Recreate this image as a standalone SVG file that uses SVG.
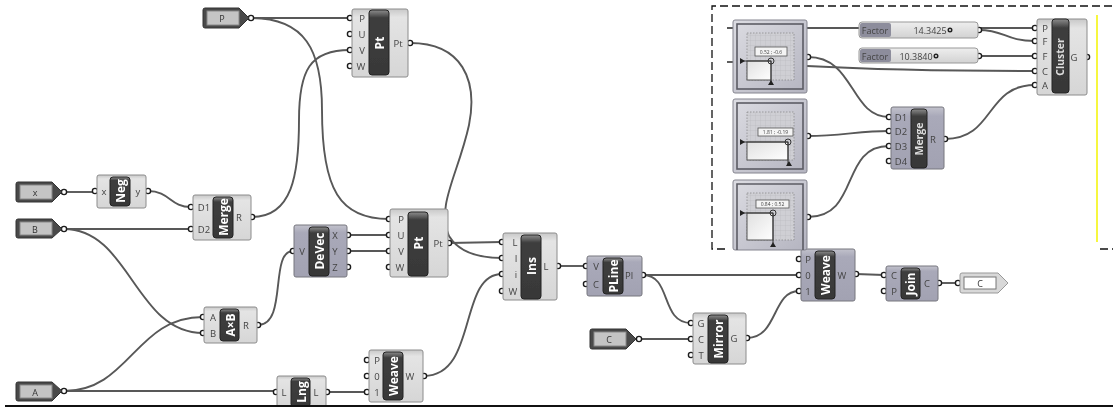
<svg xmlns="http://www.w3.org/2000/svg" width="1113" height="407" viewBox="0 0 1113 407">
<style>
text{font-family:"Open Sans","Noto Sans",sans-serif;text-anchor:middle;dominant-baseline:central}
.w{fill:none;stroke:#585858;stroke-width:1.9}
.l{fill:url(#lg);stroke:#8c8c8c;stroke-width:1}
.v{fill:url(#vg);stroke:#77777f;stroke-width:1}
.d{fill:url(#dg);stroke:#222;stroke-width:1}
.p{fill:#fff;stroke:#1c1c1c;stroke-width:1.4}
.t{font-size:9.5px;fill:#444}
.n{font-size:12px;font-weight:700;fill:#fff}
.m{font-size:10.5px;font-weight:700;fill:#ddd}
.pd{fill:#4a4a4a;stroke:#333;stroke-width:1}
.pi{fill:#c4c4c4;stroke:#888;stroke-width:1}
.pt{font-size:9px;fill:#333}
.gm{fill:url(#gg);stroke:#85858f;stroke-width:1}
.gf{fill:none;stroke:#5c5c64;stroke-width:1.6}
.gb{fill:url(#grid);stroke:#777;stroke-width:.6;stroke-dasharray:1.5 1.5}
.sq{fill:url(#sq);stroke:#555;stroke-width:1}
.c{fill:none;stroke:#333;stroke-width:1}
.tag{fill:#f4f4f4;stroke:#555;stroke-width:.8}
.tt{font-size:5px;fill:#444}
.s{fill:url(#sg);stroke:#999;stroke-width:1}
.sl{fill:#8d8d9c}
.st{font-size:9px;fill:#444}
.k{fill:#222}
</style>
<defs>
<linearGradient id="lg" x1="0" y1="0" x2="0" y2="1"><stop offset="0" stop-color="#c8c8c8"/><stop offset=".12" stop-color="#e4e4e4"/><stop offset="1" stop-color="#d6d6d6"/></linearGradient>
<linearGradient id="vg" x1="0" y1="0" x2="0" y2="1"><stop offset="0" stop-color="#c2c2cc"/><stop offset=".15" stop-color="#a9a9b9"/><stop offset="1" stop-color="#a2a2b2"/></linearGradient>
<linearGradient id="dg" x1="0" y1="0" x2="0" y2="1"><stop offset="0" stop-color="#8c8c8c"/><stop offset=".06" stop-color="#666"/><stop offset=".12" stop-color="#3e3e3e"/><stop offset="1" stop-color="#383838"/></linearGradient>
<linearGradient id="gg" x1="0" y1="0" x2="1" y2="1"><stop offset="0" stop-color="#dcdce2"/><stop offset="1" stop-color="#b4b4c0"/></linearGradient>
<linearGradient id="sq" x1="0" y1="0" x2="1" y2="1"><stop offset="0" stop-color="#e0e0e0"/><stop offset="1" stop-color="#ffffff"/></linearGradient>
<linearGradient id="sg" x1="0" y1="0" x2="0" y2="1"><stop offset="0" stop-color="#eee"/><stop offset="1" stop-color="#d2d2d2"/></linearGradient>
<pattern id="grid" width="5" height="5" patternUnits="userSpaceOnUse"><rect width="5" height="5" fill="#cfcfd4"/><path d="M5 0H0V5" fill="none" stroke="#b2b2b8" stroke-width=".5"/></pattern>
<filter id="b1" x="-2%" y="-2%" width="104%" height="104%"><feGaussianBlur stdDeviation=".4"/></filter>
<filter id="b2" x="-2%" y="-2%" width="104%" height="104%"><feGaussianBlur stdDeviation=".7"/></filter>
</defs>
<rect width="1113" height="407" fill="#fff"/>

<g id="connectors" filter="url(#b1)">
<path class="w" d="M64 192H95"/>
<path class="w" d="M148 191C170 191 170 207 191 207"/>
<path class="w" d="M64 229H191"/>
<path class="w" d="M252 217C292 217 299 175 299 120C299 70 310 50 350 50"/>
<path class="w" d="M251 18H350"/>
<path class="w" d="M251 18C305 18 322 50 322 110C322 190 340 219 389 219"/>
<path class="w" d="M410 43C462 43 478 80 469 125C458 175 436 205 449 236C460 254 482 258 502 258"/>
<path class="w" d="M64 229C130 229 135 333 203 333"/>
<path class="w" d="M64 391C130 391 135 317 203 317"/>
<path class="w" d="M64 391H276"/>
<path class="w" d="M258 325C288 325 269 251 293 251"/>
<path class="w" d="M348 235H389"/>
<path class="w" d="M348 251H389"/>
<path class="w" d="M449 243L502 242"/>
<path class="w" d="M327 392H367"/>
<path class="w" d="M424 376C478 376 458 274 502 274"/>
<path class="w" d="M558 266H586"/>
<path class="w" d="M643 275L799 275"/>
<path class="w" d="M643 275C672 275 660 323 691 323"/>
<path class="w" d="M639 339H691"/>
<path class="w" d="M747 338C778 338 772 291 799 291"/>
<path class="w" d="M856 274L884 275"/>
<path class="w" d="M939 283H958"/>
</g>
<g id="inset-connectors" filter="url(#b2)">
<path class="w" d="M727 28H1035"/>
<path class="w" d="M727 62H733"/>
<path class="w" d="M979 30C1005 30 1005 41 1035 41"/>
<path class="w" d="M979 56H1035"/>
<path class="w" d="M807 66C880 70 960 71 1035 71"/>
<path class="w" d="M808 57C855 57 850 117 889 117"/>
<path class="w" d="M808 136C840 136 860 131 889 131"/>
<path class="w" d="M808 217C860 217 840 146 889 146"/>
<path class="w" d="M945 139C995 139 985 85 1035 85"/>
</g>

<g id="param-x" filter="url(#b1)"><circle class="p" cx="64" cy="192" r="2.6"/><path class="pd" d="M18 182H52L62 192L52 202H18Q16 202 16 200V184Q16 182 18 182Z"/><rect class="pi" x="20" y="185" width="32" height="14"/><text class="pt" x="35" y="192">x</text></g>
<g id="param-b" filter="url(#b1)"><circle class="p" cx="64" cy="229" r="2.6"/><path class="pd" d="M18 219H52L62 229L52 238H18Q16 238 16 236V221Q16 219 18 219Z"/><rect class="pi" x="20" y="222" width="32" height="13"/><text class="pt" x="35" y="229">B</text></g>
<g id="param-a" filter="url(#b1)"><circle class="p" cx="64" cy="391" r="2.6"/><path class="pd" d="M18 382H52L62 391L52 401H18Q16 401 16 399V384Q16 382 18 382Z"/><rect class="pi" x="20" y="385" width="32" height="13"/><text class="pt" x="35" y="392">A</text></g>
<g id="param-p" filter="url(#b1)"><circle class="p" cx="251" cy="18" r="2.6"/><path class="pd" d="M205 8H239L249 18L239 28H205Q203 28 203 26V10Q203 8 205 8Z"/><rect class="pi" x="207" y="11" width="32" height="14"/><text class="pt" x="222" y="18">P</text></g>
<g id="param-c" filter="url(#b1)"><circle class="p" cx="639" cy="339" r="2.6"/><path class="pd" d="M592 329H626L636 339L626 349H592Q590 349 590 347V331Q590 329 592 329Z"/><rect class="pi" x="594" y="332" width="32" height="14"/><text class="pt" x="609" y="339">C</text></g>

<g id="neg" filter="url(#b1)"><circle class="p" cx="95" cy="191" r="2.6"/><circle class="p" cx="148" cy="191" r="2.6"/><rect class="l" x="97" y="175" width="49" height="33" rx="2"/><rect class="d" x="110" y="177" width="20" height="29" rx="3"/><text class="t" x="104" y="191">x</text><text class="t" x="138" y="191">y</text><text class="n" transform="translate(120 191) rotate(-90)">Neg</text></g>

<g id="merge" filter="url(#b1)"><circle class="p" cx="191" cy="207" r="2.6"/><circle class="p" cx="191" cy="229" r="2.6"/><circle class="p" cx="252" cy="217" r="2.6"/><rect class="l" x="193" y="195" width="58" height="45" rx="2"/><rect class="d" x="213" y="197" width="20" height="41" rx="3"/><text class="t" x="204" y="207">D1</text><text class="t" x="204" y="229">D2</text><text class="t" x="239" y="217">R</text><text class="n" transform="translate(223 217) rotate(-90)">Merge</text></g>

<g id="axb" filter="url(#b1)"><circle class="p" cx="203" cy="317" r="2.6"/><circle class="p" cx="203" cy="333" r="2.6"/><circle class="p" cx="258" cy="325" r="2.6"/><rect class="l" x="204" y="307" width="53" height="36" rx="2"/><rect class="d" x="220" y="309" width="19" height="32" rx="3"/><text class="t" x="213" y="317">A</text><text class="t" x="213" y="333">B</text><text class="t" x="246" y="325">R</text><text class="n" transform="translate(230 325) rotate(-90)">A×B</text></g>

<g id="devec" filter="url(#b1)"><circle class="p" cx="293" cy="251" r="2.6"/><circle class="p" cx="348" cy="235" r="2.6"/><circle class="p" cx="348" cy="251" r="2.6"/><circle class="p" cx="348" cy="267" r="2.6"/><rect class="v" x="294" y="225" width="53" height="52" rx="2"/><rect class="d" x="309" y="227" width="20" height="49" rx="3"/><text class="t" x="302" y="251">V</text><text class="t" x="335" y="235">X</text><text class="t" x="335" y="251">Y</text><text class="t" x="335" y="267">Z</text><text class="n" transform="translate(319 251) rotate(-90)">DeVec</text></g>

<g id="pt-top" filter="url(#b1)"><circle class="p" cx="350" cy="18" r="2.6"/><circle class="p" cx="350" cy="34" r="2.6"/><circle class="p" cx="350" cy="50" r="2.6"/><circle class="p" cx="350" cy="66" r="2.6"/><circle class="p" cx="410" cy="43" r="2.6"/><rect class="l" x="352" y="9" width="56" height="68" rx="2"/><rect class="d" x="369" y="10" width="20" height="65" rx="3"/><text class="t" x="362" y="18">P</text><text class="t" x="362" y="34">U</text><text class="t" x="362" y="50">V</text><text class="t" x="361" y="66">W</text><text class="t" x="398" y="43">Pt</text><text class="n" transform="translate(379 43) rotate(-90)">Pt</text></g>

<g id="pt-mid" filter="url(#b1)"><circle class="p" cx="389" cy="219" r="2.6"/><circle class="p" cx="389" cy="235" r="2.6"/><circle class="p" cx="389" cy="251" r="2.6"/><circle class="p" cx="389" cy="267" r="2.6"/><circle class="p" cx="449" cy="243" r="2.6"/><rect class="l" x="390" y="209" width="58" height="68" rx="2"/><rect class="d" x="408" y="212" width="20" height="64" rx="3"/><text class="t" x="401" y="219">P</text><text class="t" x="401" y="235">U</text><text class="t" x="401" y="251">V</text><text class="t" x="400" y="267">W</text><text class="t" x="438" y="243">Pt</text><text class="n" transform="translate(418 243) rotate(-90)">Pt</text></g>

<g id="ins" filter="url(#b1)"><circle class="p" cx="502" cy="242" r="2.6"/><circle class="p" cx="502" cy="258" r="2.6"/><circle class="p" cx="502" cy="274" r="2.6"/><circle class="p" cx="502" cy="291" r="2.6"/><circle class="p" cx="558" cy="266" r="2.6"/><rect class="l" x="503" y="233" width="54" height="67" rx="2"/><rect class="d" x="521" y="235" width="20" height="64" rx="3"/><text class="t" x="515" y="242">L</text><text class="t" x="516" y="258">I</text><text class="t" x="516" y="274">i</text><text class="t" x="513" y="291">W</text><text class="t" x="546" y="266">L</text><text class="n" transform="translate(531 266) rotate(-90)">Ins</text></g>

<g id="pline" filter="url(#b1)"><circle class="p" cx="586" cy="266" r="2.6"/><circle class="p" cx="586" cy="284" r="2.6"/><circle class="p" cx="643" cy="275" r="2.6"/><rect class="v" x="587" y="256" width="55" height="40" rx="2"/><rect class="d" x="603" y="258" width="20" height="36" rx="3"/><text class="t" x="596" y="266">V</text><text class="t" x="596" y="284">C</text><text class="t" x="629" y="275">Pl</text><text class="n" transform="translate(613 276) rotate(-90)">PLine</text></g>

<g id="weave-low" filter="url(#b1)"><circle class="p" cx="367" cy="360" r="2.6"/><circle class="p" cx="367" cy="376" r="2.6"/><circle class="p" cx="367" cy="392" r="2.6"/><circle class="p" cx="424" cy="376" r="2.6"/><rect class="l" x="369" y="350" width="54" height="52" rx="2"/><rect class="d" x="383" y="352" width="20" height="48" rx="3"/><text class="t" x="377" y="360">P</text><text class="t" x="377" y="376">0</text><text class="t" x="377" y="392">1</text><text class="t" x="410" y="376">W</text><text class="n" transform="translate(393 376) rotate(-90)">Weave</text></g>

<g id="lng" filter="url(#b1)"><circle class="p" cx="276" cy="392" r="2.6"/><circle class="p" cx="327" cy="392" r="2.6"/><rect class="l" x="277" y="376" width="49" height="32" rx="2"/><rect class="d" x="291" y="378" width="19" height="29" rx="3"/><text class="t" x="284" y="392">L</text><text class="t" x="316" y="392">L</text><text class="n" transform="translate(301 392) rotate(-90)">Lng</text></g>

<g id="mirror" filter="url(#b1)"><circle class="p" cx="691" cy="323" r="2.6"/><circle class="p" cx="691" cy="339" r="2.6"/><circle class="p" cx="691" cy="355" r="2.6"/><circle class="p" cx="747" cy="338" r="2.6"/><rect class="l" x="693" y="313" width="53" height="51" rx="2"/><rect class="d" x="708" y="315" width="20" height="48" rx="3"/><text class="t" x="701" y="323">G</text><text class="t" x="701" y="339">C</text><text class="t" x="701" y="355">T</text><text class="t" x="734" y="338">G</text><text class="n" transform="translate(718 339) rotate(-90)">Mirror</text></g>

<g id="weave-up" filter="url(#b1)"><circle class="p" cx="799" cy="259" r="2.6"/><circle class="p" cx="799" cy="275" r="2.6"/><circle class="p" cx="799" cy="291" r="2.6"/><circle class="p" cx="856" cy="274" r="2.6"/><rect class="v" x="801" y="249" width="54" height="52" rx="2"/><rect class="d" x="815" y="251" width="20" height="48" rx="3"/><text class="t" x="808" y="259">P</text><text class="t" x="808" y="275">0</text><text class="t" x="808" y="291">1</text><text class="t" x="842" y="275">W</text><text class="n" transform="translate(825 275) rotate(-90)">Weave</text></g>

<g id="join" filter="url(#b1)"><circle class="p" cx="884" cy="275" r="2.6"/><circle class="p" cx="884" cy="291" r="2.6"/><circle class="p" cx="939" cy="283" r="2.6"/><rect class="v" x="886" y="266" width="52" height="35" rx="2"/><rect class="d" x="901" y="268" width="19" height="31" rx="3"/><text class="t" x="894" y="275">C</text><text class="t" x="894" y="291">P</text><text class="t" x="927" y="283">C</text><text class="n" transform="translate(910 284) rotate(-90)">Join</text></g>

<g id="output-c" filter="url(#b1)"><circle class="p" cx="958" cy="283" r="2.6"/><path d="M962 273H998L1008 283L998 293H962Q960 293 960 291V275Q960 273 962 273Z" fill="#d8d8d8" stroke="#999"/><rect x="964" y="277" width="32" height="12" fill="#fff" stroke="#777"/><text class="pt" x="980" y="283">C</text></g>

<g id="inset-frame">
<path d="M725 249H712V6H1113" fill="none" stroke="#111" stroke-width="1.3" stroke-dasharray="8 4"/>
<path d="M1100 249H1113" fill="none" stroke="#111" stroke-width="1.3" stroke-dasharray="8 4"/>
<path d="M1097 15V242" fill="none" stroke="#f5f510" stroke-width="1.6"/>
</g>

<g id="mapper-1" filter="url(#b2)"><circle class="p" cx="808" cy="57" r="2.6"/><rect class="gm" x="733" y="20" width="74" height="73" rx="2"/><rect class="gf" x="737" y="24" width="66" height="65"/><rect class="gb" x="747" y="33" width="47" height="47"/><rect class="sq" x="747" y="61" width="24" height="19"/><path class="c" d="M741 61H771V84"/><path class="k" d="M740 58L745 61L740 64ZM768 85H774L771 80Z"/><circle cx="771" cy="61" r="3" fill="none" stroke="#333"/><rect class="tag" x="755" y="47" width="32" height="9"/><text class="tt" x="771" y="51.5">0.52 ; -0.6</text></g>
<g id="mapper-2" filter="url(#b2)"><circle class="p" cx="808" cy="136" r="2.6"/><rect class="gm" x="733" y="99" width="74" height="74" rx="2"/><rect class="gf" x="737" y="103" width="66" height="66"/><rect class="gb" x="747" y="112" width="47" height="48"/><rect class="sq" x="747" y="142" width="41" height="18"/><path class="c" d="M741 142H788V164"/><path class="k" d="M740 139L745 142L740 145ZM786 166H792L789 161Z"/><circle cx="788" cy="142" r="3" fill="none" stroke="#333"/><rect class="tag" x="758" y="128" width="35" height="8"/><text class="tt" x="775.500" y="132">1.81 ; -0.19</text></g>
<g id="mapper-3" filter="url(#b2)"><circle class="p" cx="808" cy="217" r="2.6"/><rect class="gm" x="733" y="180" width="74" height="70" rx="2"/><path class="gf" d="M737 250V184H803V250"/><rect class="gb" x="747" y="193" width="47" height="47"/><rect class="sq" x="747" y="213" width="26" height="27"/><path class="c" d="M741 213H773V243"/><path class="k" d="M740 210L745 213L740 216ZM770 247H776L773 242Z"/><circle cx="773" cy="213" r="3" fill="none" stroke="#333"/><rect class="tag" x="756" y="200" width="33" height="8"/><text class="tt" x="772.500" y="204">0.84 ; 0.52</text></g>

<g id="slider-1" filter="url(#b2)"><circle class="p" cx="979" cy="30" r="2.6"/><rect class="s" x="859" y="22" width="119" height="16" rx="3"/><rect class="sl" x="860" y="23" width="31" height="14" rx="2"/><text class="st" x="875" y="30">Factor</text><text class="st" x="930" y="30">14.3425</text><circle cx="950" cy="30" r="1.800" fill="none" stroke="#222" stroke-width="1.400"/></g>
<g id="slider-2" filter="url(#b2)"><circle class="p" cx="979" cy="56" r="2.6"/><rect class="s" x="859" y="48" width="119" height="15" rx="3"/><rect class="sl" x="860" y="49" width="31" height="13" rx="2"/><text class="st" x="875" y="56">Factor</text><text class="st" x="916" y="56">10.3840</text><circle cx="936" cy="56" r="1.800" fill="none" stroke="#222" stroke-width="1.400"/></g>

<g id="merge-inset" filter="url(#b2)"><circle class="p" cx="889" cy="117" r="2.6"/><circle class="p" cx="889" cy="131" r="2.6"/><circle class="p" cx="889" cy="146" r="2.6"/><circle class="p" cx="889" cy="161" r="2.6"/><circle class="p" cx="945" cy="139" r="2.6"/><rect class="v" x="891" y="107" width="53" height="62" rx="2"/><rect class="d" x="911" y="109" width="16" height="59" rx="3"/><text class="t" x="901" y="117">D1</text><text class="t" x="901" y="131">D2</text><text class="t" x="901" y="146">D3</text><text class="t" x="901" y="161">D4</text><text class="t" x="933" y="139">R</text><text class="m" transform="translate(919 139) rotate(-90)">Merge</text></g>

<g id="cluster" filter="url(#b2)"><circle class="p" cx="1035" cy="28" r="2.6"/><circle class="p" cx="1035" cy="41" r="2.6"/><circle class="p" cx="1035" cy="56" r="2.6"/><circle class="p" cx="1035" cy="71" r="2.6"/><circle class="p" cx="1035" cy="85" r="2.6"/><circle class="p" cx="1087" cy="57" r="2.6"/><rect class="l" x="1037" y="19" width="50" height="76" rx="2"/><rect class="d" x="1052" y="19" width="17" height="74" rx="3"/><text class="t" x="1045" y="28">P</text><text class="t" x="1045" y="41">F</text><text class="t" x="1045" y="56">F</text><text class="t" x="1045" y="71">C</text><text class="t" x="1045" y="85">A</text><text class="t" x="1074" y="57">G</text><text class="m" transform="translate(1060 57) rotate(-90)">Cluster</text></g>

<rect id="baseline" x="5" y="405" width="1108" height="2" fill="#111"/>
</svg>
